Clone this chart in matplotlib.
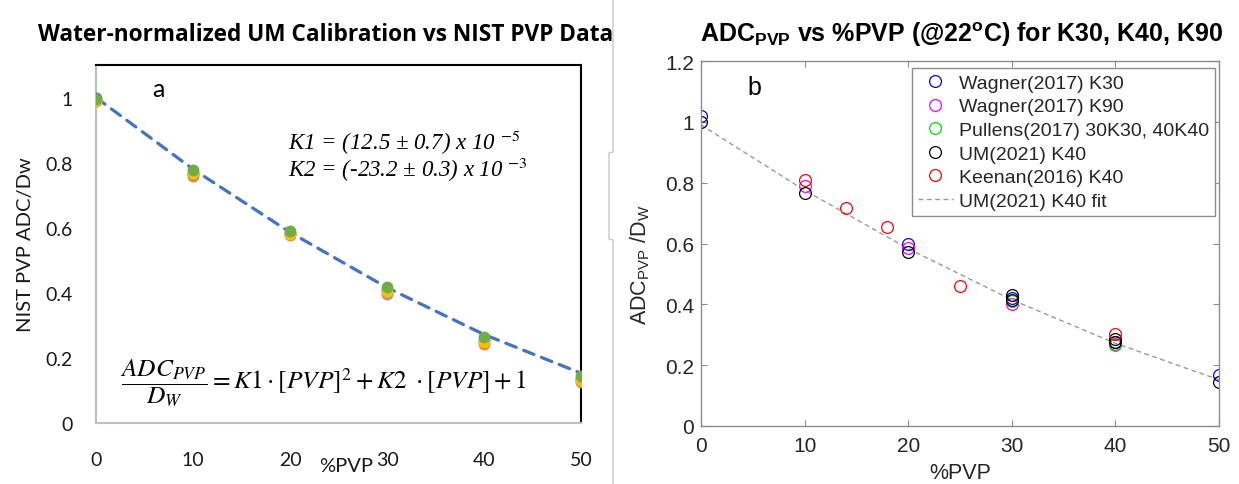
import matplotlib
matplotlib.use('Agg')
import matplotlib.pyplot as plt
from matplotlib.lines import Line2D

# panel a: NIST PVP phantom, water-normalized ADC (five sample series)
pvp_a = [0, 10, 20, 30, 40, 50]
nist_blue = [1.0, 0.765, 0.585, 0.410, 0.255, 0.135]
nist_orange = [0.99, 0.760, 0.578, 0.395, 0.242, 0.125]
nist_gray = [0.99, 0.765, 0.580, 0.400, 0.248, 0.130]
nist_yellow = [0.99, 0.768, 0.582, 0.405, 0.250, 0.133]
nist_green = [0.995, 0.776, 0.590, 0.418, 0.265, 0.145]
fit_a = [1.0, 0.780, 0.586, 0.416, 0.272, 0.153]

# panel b: literature data
wagner_k30_x = [0, 20, 30, 40, 50]
wagner_k30_y = [1.02, 0.598, 0.42, 0.275, 0.168]
wagner_k90_x = [10, 20, 30, 40]
wagner_k90_y = [0.79, 0.585, 0.40, 0.27]
pullens_x = [30, 40]
pullens_y = [0.41, 0.265]
um_x = [0, 10, 20, 30, 30, 40, 40, 50]
um_y = [0.999, 0.766, 0.572, 0.431, 0.414, 0.286, 0.275, 0.145]
keenan_x = [10, 14, 18, 25, 40]
keenan_y = [0.809, 0.717, 0.654, 0.46, 0.302]
fit_b_x = [0, 10, 20, 30, 40, 50]
fit_b_y = [0.99, 0.775, 0.583, 0.415, 0.272, 0.152]

plt.rcParams['mathtext.fontset'] = 'custom'
plt.rcParams['mathtext.rm'] = 'Liberation Sans'
plt.rcParams['mathtext.it'] = 'Liberation Sans:italic'
plt.rcParams['mathtext.bf'] = 'Liberation Sans:bold'

fig = plt.figure(figsize=(12.39, 4.85), dpi=100)

# ---- left panel (Excel style) ----
ax1 = fig.add_axes([96/1239, 1-424/485, 485/1239, 358/485])
xl_colors = ['#4472C4', '#ED7D31', '#A5A5A5', '#FFC000', '#70AD47']
for ys, c in zip([nist_blue, nist_orange, nist_gray, nist_yellow, nist_green], xl_colors):
    ax1.plot(pvp_a, ys, 'o', color=c, markersize=7.5, zorder=3)
ax1.plot(pvp_a, fit_a, color='#4472C4', lw=2.3, linestyle=(0, (3.5, 2.5)),
         dash_capstyle='round', zorder=2)
ax1.set_xlim(0, 50)
ax1.set_ylim(0, 1.1)
ax1.set_xticks([0, 10, 20, 30, 40, 50])
ax1.set_yticks([0, 0.2, 0.4, 0.6, 0.8, 1.0])
ax1.set_yticklabels(['0', '0.2', '0.4', '0.6', '0.8', '1'])
ax1.tick_params(length=0, labelsize=14, labelcolor='#1a1a1a')
ax1.tick_params(axis='x', pad=20)
ax1.tick_params(axis='y', pad=17)
for lab in ax1.get_xticklabels() + ax1.get_yticklabels():
    lab.set_family('Lato')
ax1.spines['left'].set_color('#bfbfbf')
ax1.spines['bottom'].set_color('#bfbfbf')
ax1.spines['top'].set_color('black')
ax1.spines['right'].set_color('black')
for s in ax1.spines.values():
    s.set_linewidth(1.5)
ax1.set_xlabel('%PVP', fontsize=14.5, family='Lato', color='#1a1a1a')
ax1.xaxis.set_label_coords(0.515, -0.095)
ax1.set_ylabel('NIST PVP ADC/Dw', fontsize=14.5, family='Lato', color='#1a1a1a')
ax1.yaxis.set_label_coords(-0.128, 0.5)
ax1.text(0.128, 0.933, 'a', transform=ax1.transAxes, fontsize=18, family='Lato',
         ha='center', va='center')
ax1.text(0.395, 0.787, r'K1 = (12.5 ± 0.7) x 10 $^{\mathit{-5}}$', transform=ax1.transAxes,
         fontsize=16.5, family='Liberation Serif', style='italic', math_fontfamily='stix',
         va='center')
ax1.text(0.395, 0.71, r'K2 = (-23.2 ± 0.3) x 10 $^{\mathit{-3}}$', transform=ax1.transAxes,
         fontsize=16.5, family='Liberation Serif', style='italic', math_fontfamily='stix',
         va='center')
ax1.text(0.05, 0.115, r'$\dfrac{ADC_{PVP}}{D_W} = K1\cdot[PVP]^2 + K2\ \cdot[PVP] + 1$',
         transform=ax1.transAxes, fontsize=18.3, math_fontfamily='stix', va='center')
fig.text(326/1239, 1-35/485, 'Water-normalized UM Calibration vs NIST PVP Data',
         fontsize=16.3, family='Open Sans', weight='bold', ha='center', va='center')

# ---- right panel (MATLAB style) ----
ax2 = fig.add_axes([701/1239, 1-427/485, 518/1239, 365/485])
mk = dict(linestyle='none', marker='o', markersize=8.5, markerfacecolor='none', markeredgewidth=0.9)
ax2.plot(fit_b_x, fit_b_y, color='#9a9a9a', lw=1, linestyle=(0, (3.5, 2.5)), label='UM(2021) K40 fit', zorder=1)
ax2.plot(wagner_k30_x, wagner_k30_y, color='blue', label='Wagner(2017) K30', **mk)
ax2.plot(wagner_k90_x, wagner_k90_y, color='magenta', label='Wagner(2017) K90', **mk)
ax2.plot(pullens_x, pullens_y, color='#00dd00', label='Pullens(2017) 30K30, 40K40', **mk)
ax2.plot(um_x, um_y, color='black', label='UM(2021) K40', **mk)
ax2.plot(keenan_x, keenan_y, color='red', label='Keenan(2016) K40', **mk)
ax2.set_xlim(0, 50)
ax2.set_ylim(0, 1.2)
ax2.set_xticks([0, 10, 20, 30, 40, 50])
ax2.set_yticks([0, 0.2, 0.4, 0.6, 0.8, 1.0, 1.2])
ax2.set_yticklabels(['0', '0.2', '0.4', '0.6', '0.8', '1', '1.2'])
ax2.tick_params(direction='in', top=True, right=True, length=4, width=0.8,
                color='#8c8c8c', labelsize=15, labelcolor='#262626')
ax2.tick_params(axis='x', pad=7)
ax2.tick_params(axis='y', pad=5)
for lab in ax2.get_xticklabels() + ax2.get_yticklabels():
    lab.set_family('Liberation Sans')
for s in ax2.spines.values():
    s.set_color('#8c8c8c')
    s.set_linewidth(1)
ax2.set_xlabel('%PVP', fontsize=15.5, family='Liberation Sans', color='#262626')
ax2.xaxis.set_label_coords(0.5, -0.1)
ax2.set_ylabel(r'ADC$_{\rm PVP}$ /D$_{\rm W}$', fontsize=15.5, family='Liberation Sans', color='#262626')
ax2.yaxis.set_label_coords(-0.095, 0.444)
ax2.text(0.103, 0.93, 'b', transform=ax2.transAxes, fontsize=18, family='Liberation Sans',
         ha='center', va='center')
handles, labels = ax2.get_legend_handles_labels()
order = [1, 2, 3, 4, 5, 0]
leg = ax2.legend([handles[i] for i in order], [labels[i] for i in order],
                 loc='upper right', bbox_to_anchor=(0.993, 0.98),
                 prop={'family': 'Liberation Sans', 'size': 14}, frameon=True, fancybox=False,
                 edgecolor='#8c8c8c', framealpha=1, labelspacing=0.31, handlelength=1.8,
                 handletextpad=0.35, borderpad=0.3, borderaxespad=0)
leg.get_frame().set_linewidth(1)
for t in leg.get_texts():
    t.set_color('#262626')
fig.text(962/1239, 1-35/485, r'ADC$_{\mathbf{PVP}}$ vs %PVP (@22$^{\mathbf{o}}$C) for K30, K40, K90',
         fontsize=18, family='Liberation Sans', weight='bold', ha='center', va='center')

# composite separator
fig.add_artist(Line2D([613/1239, 613/1239, 609/1239, 609/1239, 613/1239, 613/1239],
                      [1, 1-153/485, 1-154/485, 1-240/485, 1-241/485, 0],
                      transform=fig.transFigure, color='#c8c8c8', lw=1))

fig.savefig('out.png', dpi=100)
